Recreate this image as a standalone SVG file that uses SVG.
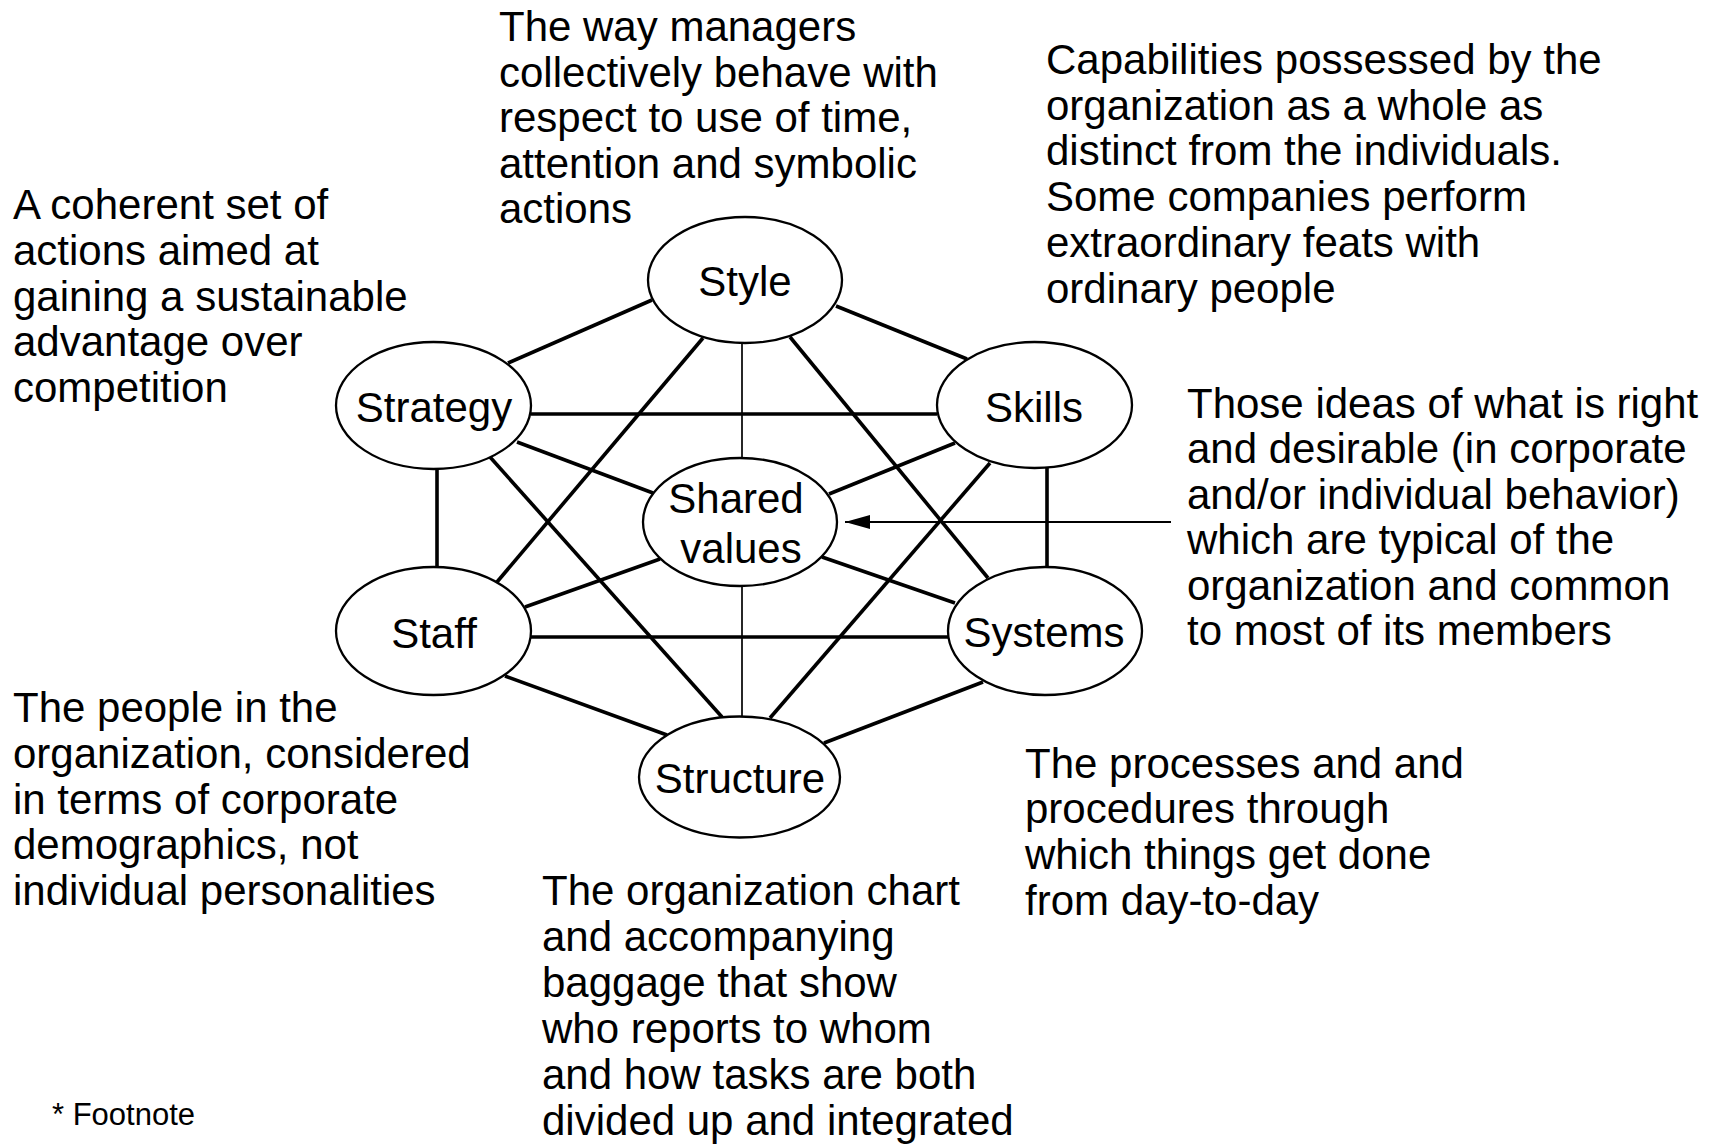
<svg xmlns="http://www.w3.org/2000/svg" width="1726" height="1145" viewBox="0 0 1726 1145">
<style>
text{font-family:"Liberation Sans",Arial,Helvetica,sans-serif;fill:#000}
.d{font-size:42px}
.n{font-size:42px;text-anchor:middle}
.f{font-size:31px}
.node ellipse{fill:#fff;stroke:#000;stroke-width:2.3}
.thick{stroke:#000;stroke-width:3.6;fill:none}
.thin{stroke:#000;stroke-width:1.7;fill:none}
</style>
<defs>
<marker id="ah" markerUnits="userSpaceOnUse" markerWidth="26" markerHeight="16" refX="25" refY="7" orient="auto">
<path d="M0,0 L25,7 L0,14 Z" fill="#000"/>
</marker>
</defs>
<rect width="1726" height="1145" fill="#fff"/>
<g id="connectors">
<line class="thick" x1="508" y1="363" x2="652" y2="300"/>
<line class="thick" x1="836" y1="306" x2="967" y2="359"/>
<line class="thick" x1="531" y1="414" x2="937" y2="414"/>
<line class="thin" x1="742" y1="343" x2="742" y2="458"/>
<line class="thick" x1="437" y1="469" x2="437" y2="567"/>
<line class="thick" x1="1047" y1="468" x2="1047" y2="567"/>
<line class="thick" x1="703" y1="338" x2="497" y2="582"/>
<line class="thick" x1="790" y1="337" x2="988" y2="578"/>
<line class="thick" x1="490" y1="457" x2="722" y2="717"/>
<line class="thick" x1="990" y1="463" x2="770" y2="718"/>
<line class="thick" x1="517" y1="442" x2="653" y2="493"/>
<line class="thick" x1="955" y1="443" x2="829" y2="494"/>
<line class="thick" x1="525" y1="607" x2="660" y2="559"/>
<line class="thick" x1="822" y1="557" x2="955" y2="603"/>
<line class="thick" x1="531" y1="637" x2="948" y2="637"/>
<line class="thin" x1="742" y1="586" x2="742" y2="716"/>
<line class="thick" x1="505" y1="676" x2="667" y2="735"/>
<line class="thick" x1="983" y1="682" x2="824" y2="743"/>
<line stroke="#000" stroke-width="2" x1="1171" y1="522" x2="845" y2="522" marker-end="url(#ah)"/>
</g>
<g id="node-style" class="node"><ellipse cx="745" cy="280" rx="97" ry="63"/><text class="n" x="745" y="296">Style</text></g>
<g id="node-strategy" class="node"><ellipse cx="433.5" cy="405.5" rx="97.5" ry="63.5"/><text class="n" x="434" y="422">Strategy</text></g>
<g id="node-skills" class="node"><ellipse cx="1034.5" cy="405" rx="97.5" ry="63"/><text class="n" x="1034" y="422">Skills</text></g>
<g id="node-shared" class="node"><ellipse cx="740" cy="522" rx="97" ry="64"/><text class="n" x="736" y="513">Shared</text><text class="n" x="741" y="563">values</text></g>
<g id="node-staff" class="node"><ellipse cx="433.5" cy="631" rx="97.5" ry="64"/><text class="n" x="434" y="648">Staff</text></g>
<g id="node-systems" class="node"><ellipse cx="1045" cy="631" rx="97" ry="64"/><text class="n" x="1044" y="647">Systems</text></g>
<g id="node-structure" class="node"><ellipse cx="739.5" cy="777" rx="100.5" ry="60.5"/><text class="n" x="740" y="793">Structure</text></g>
<g id="desc-style"><text class="d" x="499" y="41">The way managers</text><text class="d" x="499" y="87">collectively behave with</text><text class="d" x="499" y="132">respect to use of time,</text><text class="d" x="499" y="178">attention and symbolic</text><text class="d" x="499" y="223">actions</text></g>
<g id="desc-strategy"><text class="d" x="13" y="219">A coherent set of</text><text class="d" x="13" y="265">actions aimed at</text><text class="d" x="13" y="311">gaining a sustainable</text><text class="d" x="13" y="356">advantage over</text><text class="d" x="13" y="402">competition</text></g>
<g id="desc-skills"><text class="d" x="1046" y="74">Capabilities possessed by the</text><text class="d" x="1046" y="120">organization as a whole as</text><text class="d" x="1046" y="165">distinct from the individuals.</text><text class="d" x="1046" y="211">Some companies perform</text><text class="d" x="1046" y="257">extraordinary feats with</text><text class="d" x="1046" y="303">ordinary people</text></g>
<g id="desc-shared"><text class="d" x="1187" y="418">Those ideas of what is right</text><text class="d" x="1187" y="463">and desirable (in corporate</text><text class="d" x="1187" y="509">and/or individual behavior)</text><text class="d" x="1187" y="554">which are typical of the</text><text class="d" x="1187" y="600">organization and common</text><text class="d" x="1187" y="645">to most of its members</text></g>
<g id="desc-staff"><text class="d" x="13" y="722">The people in the</text><text class="d" x="13" y="768">organization, considered</text><text class="d" x="13" y="814">in terms of corporate</text><text class="d" x="13" y="859">demographics, not</text><text class="d" x="13" y="905">individual personalities</text></g>
<g id="desc-structure"><text class="d" x="542" y="905">The organization chart</text><text class="d" x="542" y="951">and accompanying</text><text class="d" x="542" y="997">baggage that show</text><text class="d" x="542" y="1043">who reports to whom</text><text class="d" x="542" y="1089">and how tasks are both</text><text class="d" x="542" y="1135">divided up and integrated</text></g>
<g id="desc-systems"><text class="d" x="1025" y="778">The processes and and</text><text class="d" x="1025" y="823">procedures through</text><text class="d" x="1025" y="869">which things get done</text><text class="d" x="1025" y="915">from day-to-day</text></g>
<text class="f" x="52" y="1125">* Footnote</text>
</svg>
